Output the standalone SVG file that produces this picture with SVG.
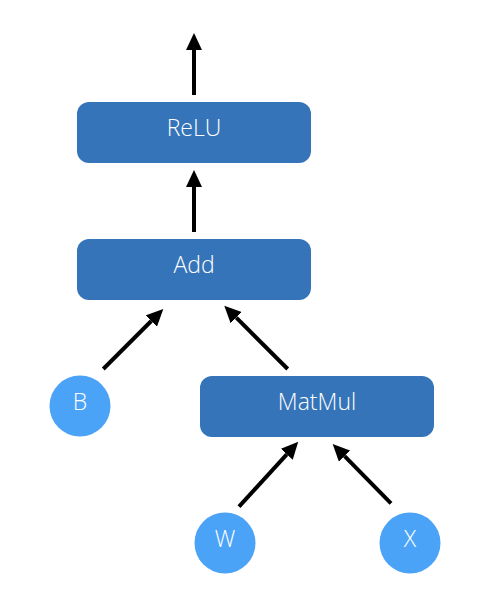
<svg xmlns="http://www.w3.org/2000/svg" width="478" height="609" viewBox="0 0 478 609">
<style>
.box{fill:#3574b8}
.circ{fill:#4ba3f8}
.lbl{fill:#ffffff;font-family:"Open Sans","Liberation Sans",sans-serif;font-size:23px;font-weight:300;text-anchor:middle}
.edge{stroke:#000;stroke-width:4;fill:none;marker-end:url(#ah)}
</style>
<defs>
<marker id="ah" markerUnits="userSpaceOnUse" markerWidth="18" markerHeight="16" refX="0" refY="8" orient="auto" viewBox="0 0 18 16">
<path d="M0,0 L17,8 L0,16 z" fill="#000"/>
</marker>
</defs>
<g id="connectors">
<path class="edge" d="M194,95 L194,50"/>
<path class="edge" d="M194,232 L194,187"/>
<path class="edge" d="M103.3,369 L151.3,321"/>
<path class="edge" d="M287.7,369 L236.3,317.7"/>
<path class="edge" d="M239,506.7 L286.8,454.3"/>
<path class="edge" d="M391,503.3 L344.6,456.1"/>
</g>
<g id="relu"><rect class="box" x="77" y="102" width="234" height="61" rx="12"/><text class="lbl" x="194" y="135.5">ReLU</text></g>
<g id="add"><rect class="box" x="77" y="239" width="234" height="61" rx="12"/><text class="lbl" x="194" y="272.5">Add</text></g>
<g id="matmul"><rect class="box" x="200" y="376" width="234" height="61" rx="12"/><text class="lbl" x="317" y="409.5">MatMul</text></g>
<g id="b"><circle class="circ" cx="80" cy="406" r="30.5"/><text class="lbl" x="80" y="409.5">B</text></g>
<g id="w"><circle class="circ" cx="225" cy="543" r="30.5"/><text class="lbl" x="225" y="546.5">W</text></g>
<g id="x"><circle class="circ" cx="410" cy="543" r="30.5"/><text class="lbl" x="410" y="546.5">X</text></g>
</svg>
